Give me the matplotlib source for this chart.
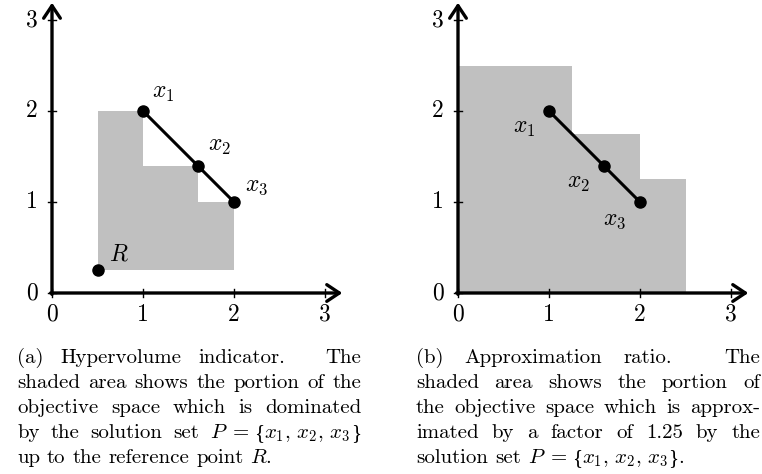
import matplotlib
matplotlib.use('Agg')
import matplotlib.pyplot as plt
import numpy as np

plt.rcParams['mathtext.fontset'] = 'cm'

# data
pts_x = [1.0, 1.6, 2.0]
pts_y = [2.0, 1.4, 1.0]
pt_labels = [r'$x_1$', r'$x_2$', r'$x_3$']
ref_pt = (0.5, 0.25)
factor = 1.25
ticks = [0, 1, 2, 3]

# the set P, glued from pieces (mathtext braces come out too tall)
setP = [(r'$P\;=$', 'cmr10', 5), ('{', 'Liberation Serif', 0),
        (r'$x_1,\,x_2,\,x_3$', 'cmr10', 0), ('}', 'Liberation Serif', 0)]
cap_a = [r'(a) Hypervolume indicator. The'.split(),
         r'shaded area shows the portion of the'.split(),
         r'objective space which is dominated'.split(),
         r'by the solution set'.split() + [setP],
         r'up to the reference point $R$.'.split()]
cap_b = [r'(b) Approximation ratio. The'.split(),
         r'shaded area shows the portion of'.split(),
         r'the objective space which is approx-'.split(),
         r'imated by a factor of 1.25 by the'.split(),
         r'solution set'.split() + [setP + [('.', 'cmr10', 0)]]]

W, H = 762, 474
unit = 91.0
gray = '#c0c0c0'
fig = plt.figure(figsize=(W / 100, H / 100), dpi=100)


def make_axes(x0, left, right, y0=293, top=0, bottom=340):
    ax = fig.add_axes([left / W, 1 - bottom / H, (right - left) / W, (bottom - top) / H])
    ax.set_xlim((left - x0) / unit, (right - x0) / unit)
    ax.set_ylim((y0 - bottom) / unit, (y0 - top) / unit)
    ax.axis('off')
    return ax


def draw_frame(ax):
    arr = dict(arrowstyle='->,head_length=0.45,head_width=0.3', lw=2.4, color='k',
               shrinkA=0, shrinkB=0, mutation_scale=20)
    ax.annotate('', xy=(3.19, 0), xytext=(-0.015, 0), arrowprops=arr, zorder=3)
    ax.annotate('', xy=(0, 3.19), xytext=(0, -0.015), arrowprops=arr, zorder=3)
    for t in ticks:
        ax.plot([t, t], [-0.04, 0.04], color='k', lw=1.0, zorder=3)
        ax.plot([-0.04, 0.04], [t, t], color='k', lw=1.0, zorder=3)
        ax.text(t, -0.24, str(t), ha='center', va='center', fontfamily='cmr10', fontsize=17)
        ax.text(-0.22, t, str(t), ha='center', va='center', fontfamily='cmr10', fontsize=17)


def draw_points(ax, offsets):
    ax.plot(pts_x, pts_y, '-o', color='k', lw=2.2, ms=8, zorder=4)
    for x, y, lab, off in zip(pts_x, pts_y, pt_labels, offsets):
        ax.annotate(lab, (x, y), xytext=off, textcoords='offset pixels',
                    ha='center', va='center', fontsize=17)


# (a) hypervolume
ax1 = make_axes(52, 0, 380)
edges = [ref_pt[0]] + pts_x
heights = pts_y + [pts_y[-1]]
ax1.fill_between(edges, ref_pt[1], heights, step='post', color=gray, lw=0, zorder=1)
draw_frame(ax1)
draw_points(ax1, [(20, 19), (22, 21), (23, 17)])
ax1.plot(*ref_pt, 'o', color='k', ms=8, zorder=4)
ax1.annotate(r'$R$', ref_pt, xytext=(21, 17), textcoords='offset pixels',
             ha='center', va='center', fontsize=17)

# (b) approximation
ax2 = make_axes(458, 380, 762)
sx = [factor * v for v in pts_x]
sy = [factor * v for v in pts_y]
ax2.fill_between([0] + sx, 0, sy + [sy[-1]], step='post', color=gray, lw=0, zorder=1)
draw_frame(ax2)
draw_points(ax2, [(-25, -16), (-25, -16), (-25, -17)])

# justified captions, spaces stretched a bit like TeX does
cap_fs = 15
em = cap_fs * 100 / 72
renderer = fig.canvas.get_renderer()


def make_word(word):
    frags = [(word, 'cmr10', 0)] if isinstance(word, str) else word
    parts = []
    for s, fam, kern in frags:
        t = fig.text(0, 0, s, fontfamily=fam, fontsize=cap_fs, va='baseline')
        parts.append((t, t.get_window_extent(renderer).width, kern))
    total = sum(w + k for _, w, k in parts)
    last = frags[-1][0]
    return parts, total, last.endswith('.')


def caption(lines, xl, xr, y_first, step=25):
    for i, line in enumerate(lines):
        words = [make_word(w) for w in line]
        nat, stretch = [], []
        for _, _, period in words[:-1]:
            if period:
                nat.append(0.444 * em)
                stretch.append(0.5)
            else:
                nat.append(0.333 * em)
                stretch.append(0.167)
        if i == len(lines) - 1:
            gaps = nat
        else:
            r = (xr - xl - sum(w[1] for w in words) - sum(nat)) / sum(stretch)
            gaps = [n + r * s for n, s in zip(nat, stretch)]
        x = xl
        y = y_first + i * step
        for j, (parts, total, _) in enumerate(words):
            px = x
            for t, w, k in parts:
                t.set_position((px / W, 1 - y / H))
                px += w + k
            if j < len(gaps):
                x += total + gaps[j]


caption(cap_a, 17, 361, 363)
caption(cap_b, 416, 760, 363)

fig.savefig('out.png', dpi=100)
